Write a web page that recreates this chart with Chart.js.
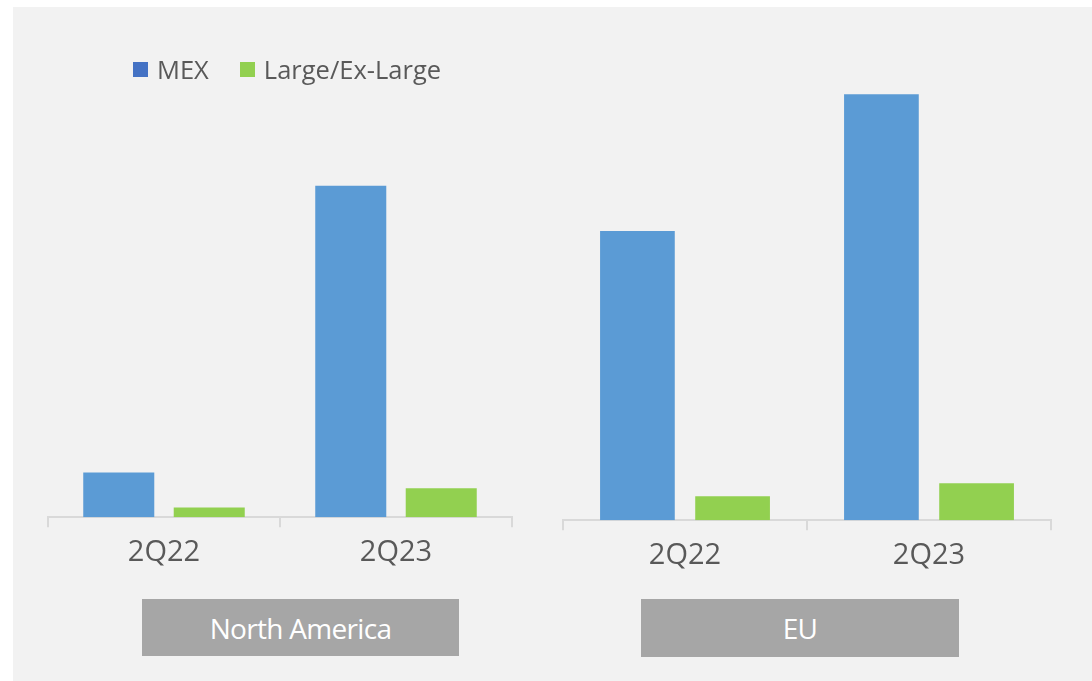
<!DOCTYPE html>
<html>
<head>
<meta charset="utf-8">
<script src="https://cdn.jsdelivr.net/npm/chart.js@4.4.0/dist/chart.umd.min.js"></script>
<style>
  html, body { margin: 0; padding: 0; background: #ffffff; }
  body { width: 1092px; height: 681px; position: relative; overflow: hidden; font-family: "Open Sans", "Noto Sans", sans-serif; }
  #panel { position: absolute; left: 13px; top: 7px; right: 0; bottom: 0; background: #f2f2f2; }
  .chartBox { position: absolute; }
  .region { position: absolute; background: #a6a6a6; color: #ffffff; font-size: 28px; letter-spacing: -0.7px;
            display: flex; align-items: center; justify-content: center; }
  #legend { position: absolute; left: 133px; top: 52px; display: flex; align-items: center; font-size: 25.5px; color: #595959; z-index: 2; }
  #legend .item { display: flex; align-items: center; margin-right: 31px; }
  #legend .sw { width: 15px; height: 15px; margin-right: 9px; }
</style>
</head>
<body>
<div id="panel"></div>
<div id="legend"></div>
<div class="chartBox" style="left:47px; top:70px; width:466px; height:508px;"><canvas id="na"></canvas></div>
<div class="chartBox" style="left:562px; top:73px; width:490px; height:508px;"><canvas id="eu"></canvas></div>
<div class="region" id="naLabel" style="left:142px; top:599px; width:317px; height:57px;"></div>
<div class="region" id="euLabel" style="left:641px; top:599px; width:318px; height:58px;"></div>
<script>
// Quarters shown in each region
const quarters = ["2Q22", "2Q23"];
const regions = ["North America", "EU"];
const seriesNames = ["MEX", "Large/Ex-Large"];

// Relative volumes (index, EU 2Q23 MEX = 100)
const naMex = [10.5, 77.8];
const naLarge = [2.3, 6.8];
const euMex = [67.9, 100];
const euLarge = [5.6, 8.7];

const barColors = ["#5b9bd5", "#92d050"];
const legendColors = ["#4472c4", "#92d050"];
const yMax = 105;

// Legend shared by both regions
const legendEl = document.getElementById("legend");
seriesNames.forEach((name, i) => {
  const item = document.createElement("div");
  item.className = "item";
  const sw = document.createElement("span");
  sw.className = "sw";
  sw.style.background = legendColors[i];
  const txt = document.createElement("span");
  txt.textContent = name;
  item.appendChild(sw);
  item.appendChild(txt);
  legendEl.appendChild(item);
});
document.getElementById("naLabel").textContent = regions[0];
document.getElementById("euLabel").textContent = regions[1];

function regionChart(id, mex, large) {
  return new Chart(document.getElementById(id), {
    type: "bar",
    data: {
      labels: quarters,
      datasets: [
        { label: seriesNames[0], data: mex, backgroundColor: barColors[0] },
        { label: seriesNames[1], data: large, backgroundColor: barColors[1] }
      ]
    },
    options: {
      responsive: true,
      maintainAspectRatio: false,
      animation: false,
      categoryPercentage: 0.78,
      barPercentage: 0.785,
      layout: { padding: { left: 1, right: 1, top: 0, bottom: 0 } },
      plugins: { legend: { display: false }, tooltip: { enabled: false } },
      scales: {
        x: {
          grid: { offset: true, drawOnChartArea: false, drawTicks: true, tickLength: 10, color: "#d9d9d9", lineWidth: 2 },
          border: { display: true, color: "#d9d9d9", width: 2 },
          ticks: { color: "#595959", font: { family: "Open Sans", size: 29 }, padding: 8 }
        },
        y: { display: false, min: 0, max: yMax }
      }
    }
  });
}

regionChart("na", naMex, naLarge);
regionChart("eu", euMex, euLarge);
</script>
</body>
</html>
